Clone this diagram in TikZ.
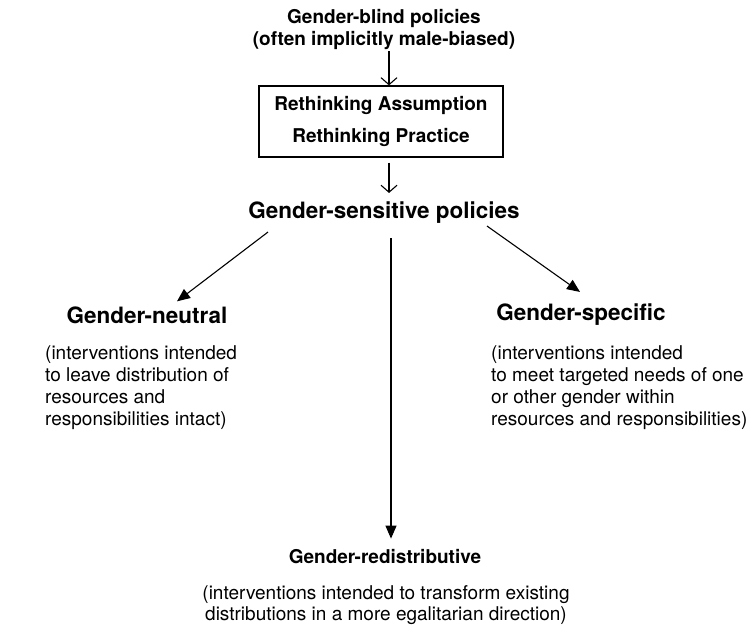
\documentclass[tikz,border=0pt]{standalone}
\usepackage{fontspec}
\setmainfont{TeX Gyre Heros}
\usepackage{tikz}
\usetikzlibrary{arrows.meta, positioning}

\tikzset{
    headtext/.style={font=\fontsize{19}{22}\selectfont\bfseries, align=center, inner sep=1pt},
    titletext/.style={font=\fontsize{22.5}{26}\selectfont\bfseries, inner sep=2pt},
    desctext/.style={font=\fontsize{19}{22}\selectfont, align=left, inner sep=0pt, anchor=north west},
    smallarrow/.style={-{Straight Barb[length=7pt, width=16pt]}, line width=1.1pt},
    bigarrow/.style={-{Triangle[length=13pt, width=11pt]}, line width=1.1pt}
}

\begin{document}
\begin{tikzpicture}[x=1pt, y=-1pt]
    \useasboundingbox (0,0) rectangle (754,634);

    % Starting point
    \node[headtext] (blind) at (384,30) {Gender-blind policies\\(often implicitly male-biased)};

    % Rethinking box
    \node[draw, line width=1.2pt, minimum width=244pt, minimum height=71pt, align=center,
          font=\fontsize{19}{32}\selectfont\bfseries] (rethink) at (381,121.5)
          {Rethinking Assumption\\Rethinking Practice};

    % Sensitive policies
    \node[titletext] (sensitive) at (384,213) {Gender-sensitive policies};

    % Three branches
    \node[titletext] (neutral) at (147,315) {Gender-neutral};
    \node[desctext] (neutraltxt) at (45,345) {(interventions intended\\to leave distribution of\\resources and\\responsibilities intact)};

    \node[titletext] (specific) at (581,315) {Gender-specific};
    \node[desctext] (specifictxt) at (491,345) {(interventions intended\\to meet targeted needs of one\\or other gender within\\resources and responsibilities)};

    \node[headtext] (redist) at (385,557) {Gender-redistributive};
    \node[font=\fontsize{19}{20.5}\selectfont, align=center, inner sep=0pt] (redisttxt) at (386,605)
          {(interventions intended to transform existing\\distributions in a more egalitarian direction)};

    % Connectors
    \draw[smallarrow] ([xshift=5pt]blind.south) -- ([xshift=8pt]rethink.north);
    \draw[smallarrow, shorten <=5pt, shorten >=7pt] ([xshift=8pt]rethink.south) -- ([xshift=5pt]sensitive.north);
    \draw[bigarrow] ([xshift=-116pt, yshift=-6pt]sensitive.south) -- ([xshift=30pt, yshift=3pt]neutral.north);
    \draw[bigarrow] ([xshift=103pt]sensitive.south) -- ([xshift=-1pt, yshift=10pt]specific.north);
    \draw[bigarrow] ([xshift=7pt, yshift=-12pt]sensitive.south) -- ([xshift=6pt, yshift=10pt]redist.north);

\end{tikzpicture}
\end{document}
